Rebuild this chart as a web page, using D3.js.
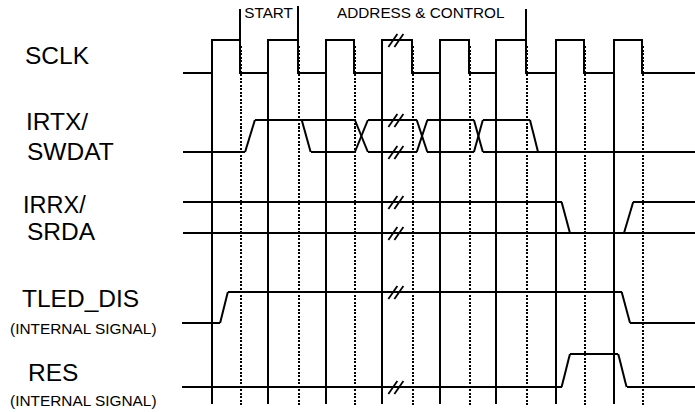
<!DOCTYPE html>
<html><head><meta charset="utf-8">
<script src="https://cdn.jsdelivr.net/npm/d3@7"></script>
<style>body{margin:0;background:#fff}svg{display:block}</style>
</head><body>
<svg id="c" width="695" height="412"></svg>
<script>
// ---- DATA (time unit = half SCLK period) ----
const tRange = [0, 17.81];
// SCLK edges, alternating rising / falling
const sclkEdges = [1.00,1.98,2.95,4.01,4.96,5.95,6.92,7.98,8.94,9.95,10.89,11.93,12.97,13.96,14.99,15.98];
const signalLabels = [["SCLK"],["IRTX/","SWDAT"],["IRRX/","SRDA"],["TLED_DIS","(INTERNAL SIGNAL)"],["RES","(INTERNAL SIGNAL)"]];
// IRTX/SWDAT
const swdatHigh = [[2.50,5.98],[6.43,8.13],[8.50,10.12],[10.43,12.07]];
const swdatLow  = [[0,2.16],[4.44,5.98],[6.43,8.13],[8.50,10.12],[10.43,17.81]];
const swdatTrans = [[2.16,0,2.50,1],[4.13,1,4.44,0],[5.98,1,6.43,0],[5.98,0,6.43,1],[8.13,1,8.50,0],[8.13,0,8.50,1],[10.12,1,10.43,0],[10.12,0,10.43,1],[12.07,1,12.35,0]];
// IRRX/SRDA
const srdaHigh = [[0,13.17],[15.66,17.81]];
const srdaLow  = [[0,17.81]];
const srdaTrans = [[13.17,1,13.46,0],[15.34,0,15.66,1]];
// TLED_DIS
const tledHigh = [[1.56,15.26]];
const tledLow  = [[-0.05,1.29],[15.55,17.81]];
const tledTrans = [[1.29,0,1.56,1],[15.26,1,15.55,0]];
// RES
const resHigh = [[13.46,15.14]];
const resLow  = [[-0.05,13.17],[15.43,17.81]];
const resTrans = [[13.17,0,13.46,1],[15.14,1,15.43,0]];
// break marks: times, and [signal, level] where drawn
const breakTimes = [7.30, 7.51];
const breakAt = [[0,1],[1,1],[1,0],[2,1],[2,0],[3,1],[4,0]];
// phase markers (index into sclkEdges) and phase labels
const markerEdges = [1, 3, 11];
const phaseLabels = [{text:"START", t:2.13}, {text:"ADDRESS & CONTROL", t:5.36}];

// ---- LAYOUT ----
const svg = d3.select("#c");
const x = d3.scaleLinear().domain(tRange).range([183, 695]);
const rowsY = [[73,40],[152,120],[233,202],[323,292],[387,354]];
const y = rowsY.map(r => d3.scaleLinear().domain([0,1]).range(r));
const guideBottom = 404, dotTop = 46, dotBottom = 405;
const markerTops = [9, 6, 9];
const font = "'Liberation Sans', Arial, Helvetica, sans-serif";
const SW = 2;
const rx = v => Math.round(v);

const g = svg.append("g").attr("stroke","#000").attr("fill","none").attr("stroke-width",SW);

// guides: solid at rising edges, dotted at falling edges
const rises = sclkEdges.filter((d,i)=>i%2===0);
const falls = sclkEdges.filter((d,i)=>i%2===1);
g.selectAll(".rise").data(rises).join("line").attr("shape-rendering","crispEdges")
  .attr("x1",d=>rx(x(d))).attr("x2",d=>rx(x(d))).attr("y1",y[0](1)).attr("y2",guideBottom);
g.selectAll(".fall").data(falls).join("line").attr("shape-rendering","crispEdges")
  .attr("x1",d=>rx(x(d))+1).attr("x2",d=>rx(x(d))+1).attr("y1",dotTop).attr("y2",dotBottom)
  .attr("stroke-dasharray","2,1.5");

// SCLK waveform
const sclkPts = [[tRange[0],0]];
sclkEdges.forEach((t,i)=>{ const lv = i%2===0?0:1; sclkPts.push([t,lv],[t,1-lv]); });
sclkPts.push([tRange[1],0]);
g.append("path").attr("shape-rendering","crispEdges")
  .attr("d", d3.line().x(d=>rx(x(d[0]))).y(d=>y[0](d[1]))(sclkPts));

// markers
g.selectAll(".mk").data(markerEdges).join("line").attr("shape-rendering","crispEdges")
  .attr("x1",d=>rx(x(sclkEdges[d]))).attr("x2",d=>rx(x(sclkEdges[d])))
  .attr("y1",(d,i)=>markerTops[i]).attr("y2",y[0](1));

// other signals
const sigs = [
  {row:1, hi:swdatHigh, lo:swdatLow, tr:swdatTrans},
  {row:2, hi:srdaHigh, lo:srdaLow, tr:srdaTrans},
  {row:3, hi:tledHigh, lo:tledLow, tr:tledTrans},
  {row:4, hi:resHigh, lo:resLow, tr:resTrans}
];
sigs.forEach(s=>{
  const ys = y[s.row];
  s.hi.forEach(sp=>g.append("line").attr("shape-rendering","crispEdges").attr("x1",x(sp[0])).attr("x2",x(sp[1])).attr("y1",ys(1)).attr("y2",ys(1)));
  s.lo.forEach(sp=>g.append("line").attr("shape-rendering","crispEdges").attr("x1",x(sp[0])).attr("x2",x(sp[1])).attr("y1",ys(0)).attr("y2",ys(0)));
  s.tr.forEach(t=>g.append("line").attr("x1",x(t[0])).attr("y1",ys(t[1])).attr("x2",x(t[2])).attr("y2",ys(t[3])));
});

// break marks
const gb = svg.append("g").attr("stroke","#000").attr("stroke-width",1.8);
breakAt.forEach(b=>{
  const yy = y[b[0]](b[1]);
  breakTimes.forEach(t=>{
    gb.append("line").attr("x1",x(t)-4.5).attr("y1",yy+7).attr("x2",x(t)+4.5).attr("y2",yy-6);
  });
});

// phase labels
svg.selectAll(".pl").data(phaseLabels).join("text")
  .attr("x",d=>x(d.t)).attr("y",18).attr("font-family",font).attr("font-size",15.3)
  .text(d=>d.text);

// signal labels
const labelPos = [
  [{x:25,y:64,s:24.5}],
  [{x:26,y:130,s:24.5},{x:27,y:160,s:24.5}],
  [{x:23,y:212.5,s:23.5},{x:27,y:240,s:24.5}],
  [{x:22,y:307,s:24.5},{x:10,y:334,s:15.4}],
  [{x:28,y:381,s:24.5},{x:10,y:406,s:15.4}]
];
signalLabels.forEach((lines,i)=>{
  lines.forEach((txt,j)=>{
    const p = labelPos[i][j];
    svg.append("text").attr("x",p.x).attr("y",p.y).attr("font-family",font)
      .attr("font-size",p.s).attr("fill","#000").text(txt);
  });
});
</script>
</body></html>
